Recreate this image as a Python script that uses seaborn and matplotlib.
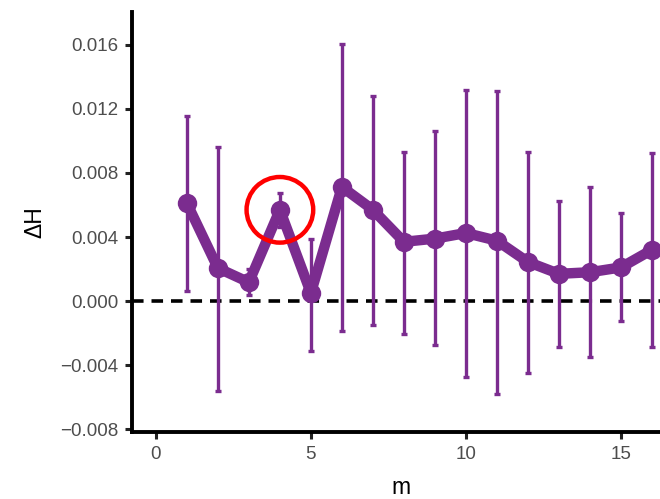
import numpy as np
import pandas as pd
import matplotlib
matplotlib.use("Agg")
import matplotlib.pyplot as plt
import seaborn as sns
from matplotlib.patches import Ellipse

# values
m = [1, 2, 3, 4, 5, 6, 7, 8, 9, 10, 11, 12, 13, 14, 15, 16]
dH = [0.00612, 0.00206, 0.00117, 0.00570, 0.00050, 0.00713, 0.00570, 0.00370,
      0.00390, 0.00425, 0.00377, 0.00244, 0.00170, 0.00180, 0.00210, 0.00320]
dH_upper = [0.01156, 0.00963, 0.00200, 0.00675, 0.00390, 0.01606, 0.01280, 0.00930,
            0.01060, 0.01320, 0.01314, 0.00930, 0.00625, 0.00710, 0.00550, 0.00925]
dH_lower = [0.00064, -0.00560, 0.00040, 0.00465, -0.00310, -0.00188, -0.00148, -0.00206,
            -0.00275, -0.00473, -0.00580, -0.00448, -0.00288, -0.00350, -0.00125, -0.00290]
highlight = 4  # the circled value of m

df = pd.DataFrame({"m": m, "dH": dH, "lo": dH_lower, "hi": dH_upper})

purple = "#7B2C8F"

sns.set_style("white")
plt.rcParams["font.family"] = ["Liberation Sans", "DejaVu Sans"]

fig = plt.figure(figsize=(6.6, 4.99), dpi=100)
ax = fig.add_axes([0.2, 0.134, 0.8, 0.842])

# zero line
ax.axhline(0, color="black", lw=2.6, ls=(0, (3.2, 2.2)), zorder=1)

# error bars
ax.errorbar(df["m"], df["dH"],
            yerr=[df["dH"] - df["lo"], df["hi"] - df["dH"]],
            fmt="none", ecolor=purple, elinewidth=2.4, capsize=2.5, capthick=2.4, zorder=2)

# mean line with points
sns.lineplot(data=df, x="m", y="dH", color=purple, lw=7.5, marker="o", markersize=14,
             markeredgewidth=0, ax=ax, zorder=3)

# red circle around the highlighted point
row = df[df["m"] == highlight].iloc[0]
ax.add_patch(Ellipse((row["m"], row["dH"]), width=2.15, height=0.0041,
                     fill=False, edgecolor="#FF0000", lw=3.2, zorder=4))

ax.set_xlim(-0.77, 16.26)
ax.set_ylim(-0.00819, 0.01806)
ax.set_xticks([0, 5, 10, 15])
ax.set_yticks([-0.008, -0.004, 0.0, 0.004, 0.008, 0.012, 0.016])
ax.set_yticklabels(["\u22120.008", "\u22120.004", "0.000", "0.004", "0.008", "0.012", "0.016"])

ax.set_xlabel("m", fontsize=16.5, color="black")
ax.set_ylabel("\u0394H", fontsize=16.5, color="black")
ax.xaxis.set_label_coords(0.51, -0.104)
ax.yaxis.set_label_coords(-0.162, 0.5)

for side in ["top", "right"]:
    ax.spines[side].set_visible(False)
for side in ["left", "bottom"]:
    ax.spines[side].set_color("black")
    ax.spines[side].set_linewidth(2.8)

ax.tick_params(axis="both", which="major", length=5, width=2.2, color="#222222",
               labelsize=13.5, labelcolor="#4D4D4D", direction="out", pad=5,
               left=True, bottom=True)

fig.savefig("out.png", dpi=100)
